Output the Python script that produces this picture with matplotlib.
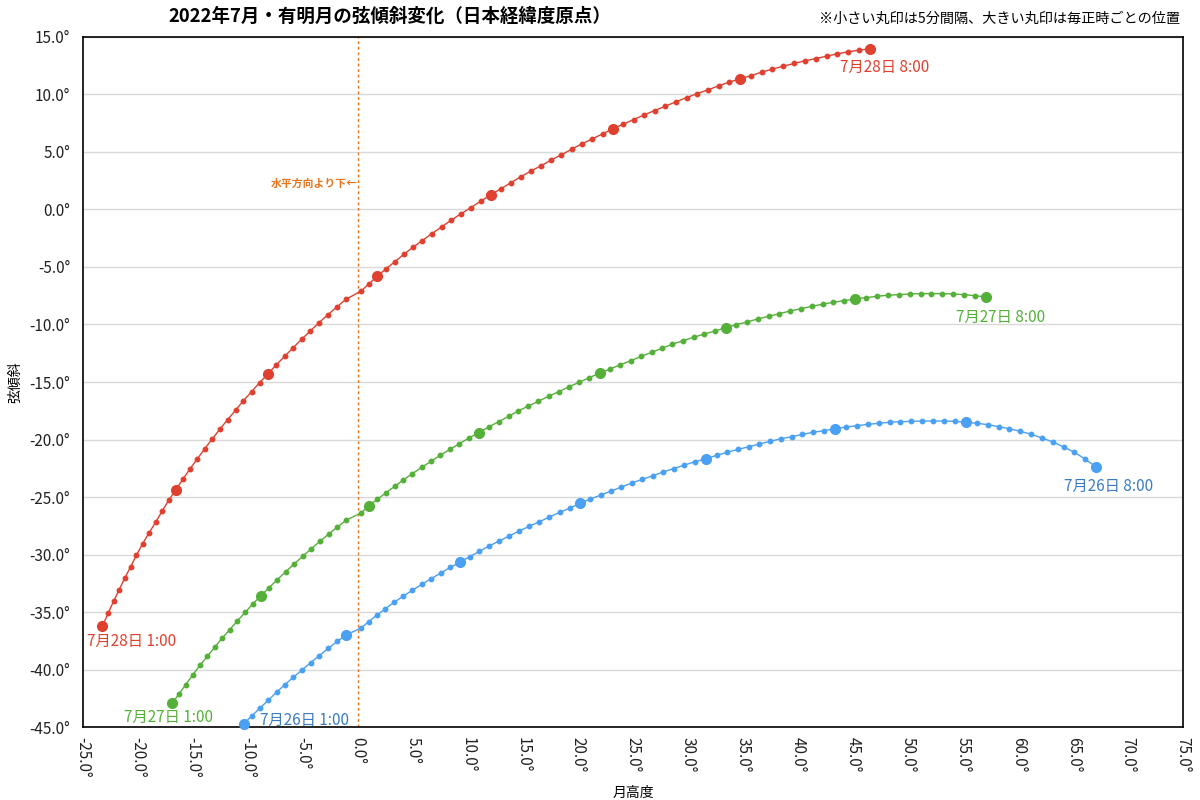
import matplotlib
matplotlib.use('Agg')
import matplotlib.pyplot as plt
from matplotlib.ticker import FuncFormatter, MultipleLocator

plt.rcParams['font.family'] = ['Noto Sans CJK JP', 'DejaVu Sans']

# 月高度 (x) と 弦傾斜 (y)、1:00〜8:00 の5分ごと
x_0728 = [-23.21, -22.70, -22.21, -21.70, -21.18, -20.66, -20.12, -19.57, -18.97, -18.36, -17.79, -17.18,
          -16.55, -15.91, -15.27, -14.61, -13.94, -13.25, -12.55, -11.85, -11.12, -10.43, -9.66, -8.94,
          -8.18, -7.43, -6.66, -5.88, -5.12, -4.34, -3.52, -2.73, -1.91, -1.09, 0.27, 1.03,
          1.75, 2.55, 3.36, 4.18, 5.00, 5.85, 6.73, 7.61, 8.48, 9.36, 10.27, 11.15,
          12.06, 12.97, 13.88, 14.79, 15.70, 16.61, 17.55, 18.48, 19.43, 20.36, 21.30, 22.25,
          23.18, 24.12, 25.06, 26.03, 26.97, 27.94, 28.91, 29.88, 30.85, 31.82, 32.79, 33.75,
          34.73, 35.73, 36.70, 37.66, 38.66, 39.64, 40.61, 41.61, 42.61, 43.57, 44.57, 45.55,
          46.55]
y_0728 = [-36.19, -35.11, -34.07, -33.06, -32.04, -31.06, -30.04, -29.06, -28.10, -27.15, -26.22, -25.26,
          -24.37, -23.46, -22.57, -21.70, -20.83, -19.96, -19.11, -18.28, -17.46, -16.65, -15.84, -15.06,
          -14.30, -13.52, -12.77, -12.02, -11.29, -10.57, -9.84, -9.15, -8.48, -7.81, -7.11, -6.45,
          -5.81, -5.17, -4.54, -3.90, -3.29, -2.71, -2.10, -1.52, -0.94, -0.39, 0.16, 0.71,
          1.26, 1.78, 2.30, 2.83, 3.32, 3.78, 4.28, 4.74, 5.23, 5.70, 6.13, 6.57,
          7.00, 7.41, 7.81, 8.22, 8.59, 8.97, 9.35, 9.72, 10.07, 10.39, 10.74, 11.06,
          11.35, 11.63, 11.93, 12.19, 12.45, 12.68, 12.91, 13.11, 13.32, 13.52, 13.70, 13.84,
          13.96]

x_0727 = [-16.88, -16.27, -15.64, -15.00, -14.36, -13.70, -13.03, -12.36, -11.66, -10.97, -10.25, -9.55,
          -8.82, -8.09, -7.34, -6.57, -5.82, -5.03, -4.25, -3.45, -2.66, -1.88, -1.06, 0.27,
          0.97, 1.75, 2.55, 3.34, 4.12, 4.94, 5.79, 6.64, 7.48, 8.36, 9.21, 10.09,
          10.97, 11.88, 12.79, 13.70, 14.57, 15.48, 16.39, 17.34, 18.25, 19.15, 20.09, 21.03,
          21.97, 22.91, 23.85, 24.79, 25.73, 26.70, 27.64, 28.57, 29.55, 30.52, 31.48, 32.45,
          33.43, 34.39, 35.36, 36.34, 37.34, 38.30, 39.27, 40.27, 41.25, 42.25, 43.21, 44.21,
          45.21, 46.18, 47.18, 48.15, 49.15, 50.15, 51.15, 52.12, 53.12, 54.12, 55.09, 56.09,
          57.09]
y_0727 = [-42.94, -42.13, -41.29, -40.45, -39.63, -38.85, -38.07, -37.29, -36.54, -35.78, -35.03, -34.28,
          -33.58, -32.89, -32.19, -31.50, -30.83, -30.16, -29.50, -28.85, -28.22, -27.61, -27.00, -26.39,
          -25.78, -25.20, -24.63, -24.07, -23.52, -22.97, -22.42, -21.90, -21.37, -20.85, -20.37, -19.87,
          -19.41, -18.91, -18.45, -17.98, -17.52, -17.09, -16.68, -16.24, -15.84, -15.43, -15.03, -14.63,
          -14.22, -13.87, -13.50, -13.15, -12.78, -12.42, -12.07, -11.72, -11.41, -11.11, -10.83, -10.57,
          -10.28, -10.02, -9.78, -9.52, -9.29, -9.06, -8.83, -8.63, -8.42, -8.24, -8.07, -7.93,
          -7.78, -7.67, -7.55, -7.46, -7.41, -7.35, -7.32, -7.32, -7.32, -7.35, -7.41, -7.50,
          -7.61]

x_0726 = [-10.36, -9.64, -8.88, -8.14, -7.39, -6.64, -5.86, -5.07, -4.29, -3.50, -2.71, -1.89,
          -1.07, 0.25, 0.98, 1.75, 2.48, 3.27, 4.09, 4.94, 5.79, 6.64, 7.52, 8.39,
          9.27, 10.15, 11.03, 11.91, 12.82, 13.73, 14.64, 15.55, 16.48, 17.39, 18.34, 19.25,
          20.18, 21.12, 22.06, 23.00, 23.94, 24.88, 25.85, 26.79, 27.73, 28.70, 29.66, 30.64,
          31.64, 32.61, 33.57, 34.55, 35.52, 36.48, 37.45, 38.45, 39.43, 40.39, 41.39, 42.36,
          43.36, 44.36, 45.34, 46.34, 47.34, 48.34, 49.30, 50.30, 51.30, 52.30, 53.27, 54.27,
          55.27, 56.27, 57.27, 58.25, 59.21, 60.21, 61.21, 62.18, 63.18, 64.15, 65.12, 66.09,
          67.06]
y_0726 = [-44.68, -44.02, -43.32, -42.65, -41.96, -41.30, -40.65, -40.02, -39.39, -38.77, -38.16, -37.55,
          -36.97, -36.41, -35.83, -35.24, -34.71, -34.16, -33.63, -33.11, -32.59, -32.10, -31.61, -31.11,
          -30.65, -30.19, -29.72, -29.26, -28.83, -28.39, -27.96, -27.55, -27.15, -26.74, -26.33, -25.96,
          -25.55, -25.17, -24.83, -24.48, -24.13, -23.78, -23.46, -23.15, -22.83, -22.52, -22.22, -21.93,
          -21.67, -21.37, -21.11, -20.85, -20.63, -20.39, -20.16, -19.93, -19.76, -19.55, -19.37, -19.23,
          -19.06, -18.91, -18.80, -18.68, -18.59, -18.50, -18.45, -18.42, -18.39, -18.39, -18.39, -18.42,
          -18.50, -18.59, -18.71, -18.89, -19.06, -19.29, -19.55, -19.87, -20.22, -20.65, -21.11, -21.70,
          -22.37]

series = [
    # x, y, line colour, label colour, start label, end label, start offset, end offset (pixels)
    (x_0728, y_0728, '#e0402f', '#e0402f', '7月28日 1:00', '7月28日 8:00', (-15, -16), (-30, -19)),
    (x_0727, y_0727, '#55b03a', '#55b03a', '7月27日 1:00', '7月27日 8:00', (-48, -14), (-30, -20)),
    (x_0726, y_0726, '#4aa0f2', '#3b7cc4', '7月26日 1:00', '7月26日 8:00', (16, 3), (-32, -20)),
]

fig = plt.figure(figsize=(12, 8), dpi=100)
ax = fig.add_axes([0.069, 0.091, 0.917, 0.863])

for xs, ys, col, tcol, lab0, lab1, off0, off1 in series:
    ax.plot(xs, ys, '-', color=col, lw=1.0, marker='o', ms=3.2, mec=col, mfc=col,
            clip_on=False, zorder=3)
    ax.plot(xs[::12], ys[::12], 'o', color=col, ms=7, mec=col, mfc=col,
            clip_on=False, zorder=4)
    ax.annotate(lab0, (xs[0], ys[0]), xytext=off0, textcoords='offset pixels',
                color=tcol, fontsize=11, ha='left', va='center', annotation_clip=False)
    ax.annotate(lab1, (xs[-1], ys[-1]), xytext=off1, textcoords='offset pixels',
                color=tcol, fontsize=11, ha='left', va='center', annotation_clip=False)

ax.axvline(0, color='#e8741c', lw=1, ls=(0, (2, 2)), zorder=2)
ax.text(-0.05, 2.2, '水平方向より下←', color='#e8741c', fontsize=7.8, fontweight='bold',
        ha='right', va='center')

ax.set_xlim(-25, 75)
ax.set_ylim(-45, 15)
ax.xaxis.set_major_locator(MultipleLocator(5))
ax.yaxis.set_major_locator(MultipleLocator(5))
deg = FuncFormatter(lambda v, p: f'{v:.1f}°')
ax.xaxis.set_major_formatter(deg)
ax.yaxis.set_major_formatter(deg)
ax.tick_params(length=0, labelsize=11, colors='#222222', pad=7)
ax.tick_params(axis='y', pad=9)
ax.tick_params(axis='x', labelrotation=-90)
for lbl in ax.get_xticklabels():
    lbl.set_va('top')
ax.grid(axis='y', color='#d9d9d9', lw=1)
ax.set_axisbelow(True)
for sp in ax.spines.values():
    sp.set_color('black')
    sp.set_linewidth(1.2)

ax.set_xlabel('月高度', fontsize=10, labelpad=6)
ax.set_ylabel('弦傾斜', fontsize=10, labelpad=5)

fig.text(0.325, 0.979, '2022年7月・有明月の弦傾斜変化（日本経緯度原点）',
         fontsize=13.3, fontweight='bold', ha='center', va='center')
fig.text(0.983, 0.976, '※小さい丸印は5分間隔、大きい丸印は毎正時ごとの位置',
         fontsize=10.2, ha='right', va='center')

fig.savefig('out.png', dpi=100)
